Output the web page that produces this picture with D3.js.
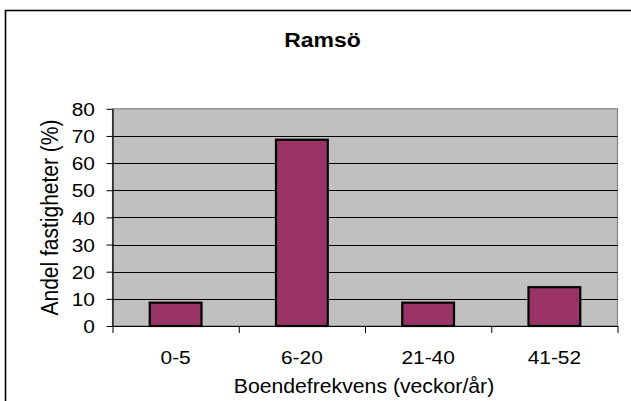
<!DOCTYPE html>
<html>
<head>
<meta charset="utf-8">
<script src="https://cdn.jsdelivr.net/npm/d3@7/dist/d3.min.js"></script>
<style>
  html, body { margin: 0; padding: 0; background: #fff; }
  svg { display: block; }
  text { font-family: "Liberation Sans", Arial, sans-serif; fill: #000; }
</style>
</head>
<body>
<svg id="chart" width="631" height="401"></svg>
<script>
// Share of properties by occupancy frequency (weeks per year)
const categories = ["0-5", "6-20", "21-40", "41-52"];
const shares = [8.6, 68.6, 8.6, 14.3];
const yTicks = [0, 10, 20, 30, 40, 50, 60, 70, 80];
const chartTitle = "Ramsö";
const xTitle = "Boendefrekvens (veckor/år)";
const yTitle = "Andel fastigheter (%)";

const svg = d3.select("#chart");
const W = 631, H = 401;
const plot = { left: 112.5, right: 617.5, top: 108.8, bottom: 326 };
const SX = 1.1; // horizontal glyph stretch

// outer chart frame
svg.append("rect")
  .attr("x", 5.5).attr("y", 10.5)
  .attr("width", W + 20).attr("height", H + 20)
  .attr("fill", "#fff").attr("stroke", "#000").attr("stroke-width", 1.6);

const x = d3.scaleBand().domain(categories)
  .range([plot.left, plot.right])
  .paddingInner(0.59).paddingOuter(0.295);
const slot = d3.scaleLinear().domain([0, categories.length]).range([plot.left, plot.right]);
const y = d3.scaleLinear().domain([0, 80]).range([plot.bottom, plot.top]);

// plot background
svg.append("rect")
  .attr("x", plot.left).attr("y", plot.top)
  .attr("width", plot.right - plot.left).attr("height", plot.bottom - plot.top)
  .attr("fill", "#c0c0c0").attr("stroke", "#808080").attr("stroke-width", 1.2);

// horizontal gridlines
svg.append("g").selectAll("line")
  .data(yTicks.filter(v => v > 0 && v < 80))
  .join("line")
  .attr("x1", plot.left).attr("x2", plot.right)
  .attr("y1", d => Math.round(y(d)) + 0.5).attr("y2", d => Math.round(y(d)) + 0.5)
  .attr("stroke", "#000").attr("stroke-width", 1);

// bars
svg.append("g").selectAll("rect")
  .data(categories.map((c, i) => ({ c, v: shares[i] })))
  .join("rect")
  .attr("x", d => x(d.c)).attr("width", x.bandwidth())
  .attr("y", d => y(d.v)).attr("height", d => y(0) - y(d.v))
  .attr("fill", "#993366").attr("stroke", "#000").attr("stroke-width", 2.2);

// y axis
const yAxis = svg.append("g")
  .attr("transform", `translate(${plot.left},0)`)
  .call(d3.axisLeft(y).tickValues(yTicks).tickSize(6).tickSizeOuter(0));
yAxis.select(".domain").attr("stroke", "#000").attr("stroke-width", 1.2);
yAxis.selectAll(".tick line").attr("stroke", "#000");
yAxis.selectAll(".tick text")
  .attr("x", null).attr("dy", "0.35em")
  .attr("transform", `translate(-17.5,0) scale(${SX},1)`)
  .style("font-size", "19px").style("font-family", "'Liberation Sans', Arial, sans-serif");

// x axis: ticks at slot boundaries
const xTickAxis = svg.append("g")
  .attr("transform", `translate(0,${plot.bottom})`)
  .call(d3.axisBottom(slot).tickValues(d3.range(categories.length + 1)).tickSize(7).tickSizeOuter(0).tickFormat(""));
xTickAxis.select(".domain").attr("stroke", "#000").attr("stroke-width", 1.2);
xTickAxis.selectAll(".tick line").attr("stroke", "#000");

// x category labels
svg.append("g").selectAll("text")
  .data(categories)
  .join("text")
  .attr("text-anchor", "middle")
  .attr("transform", d => `translate(${x(d) + x.bandwidth() / 2},${plot.bottom + 38}) scale(${SX},1)`)
  .style("font-size", "19px")
  .text(d => d);

// chart title
svg.append("text")
  .attr("text-anchor", "middle")
  .attr("transform", `translate(322.5,47) scale(1.12,1)`)
  .style("font-size", "20.5px").style("font-weight", "bold")
  .text(chartTitle);

// x axis title
svg.append("text")
  .attr("text-anchor", "middle")
  .attr("transform", `translate(364,392.5) scale(${SX},1)`)
  .style("font-size", "19.3px")
  .text(xTitle);

// y axis title
svg.append("text")
  .attr("text-anchor", "middle")
  .attr("transform", `translate(58,217.5) scale(${SX},1) rotate(-90)`)
  .style("font-size", "21px")
  .text(yTitle);
</script>
</body>
</html>
